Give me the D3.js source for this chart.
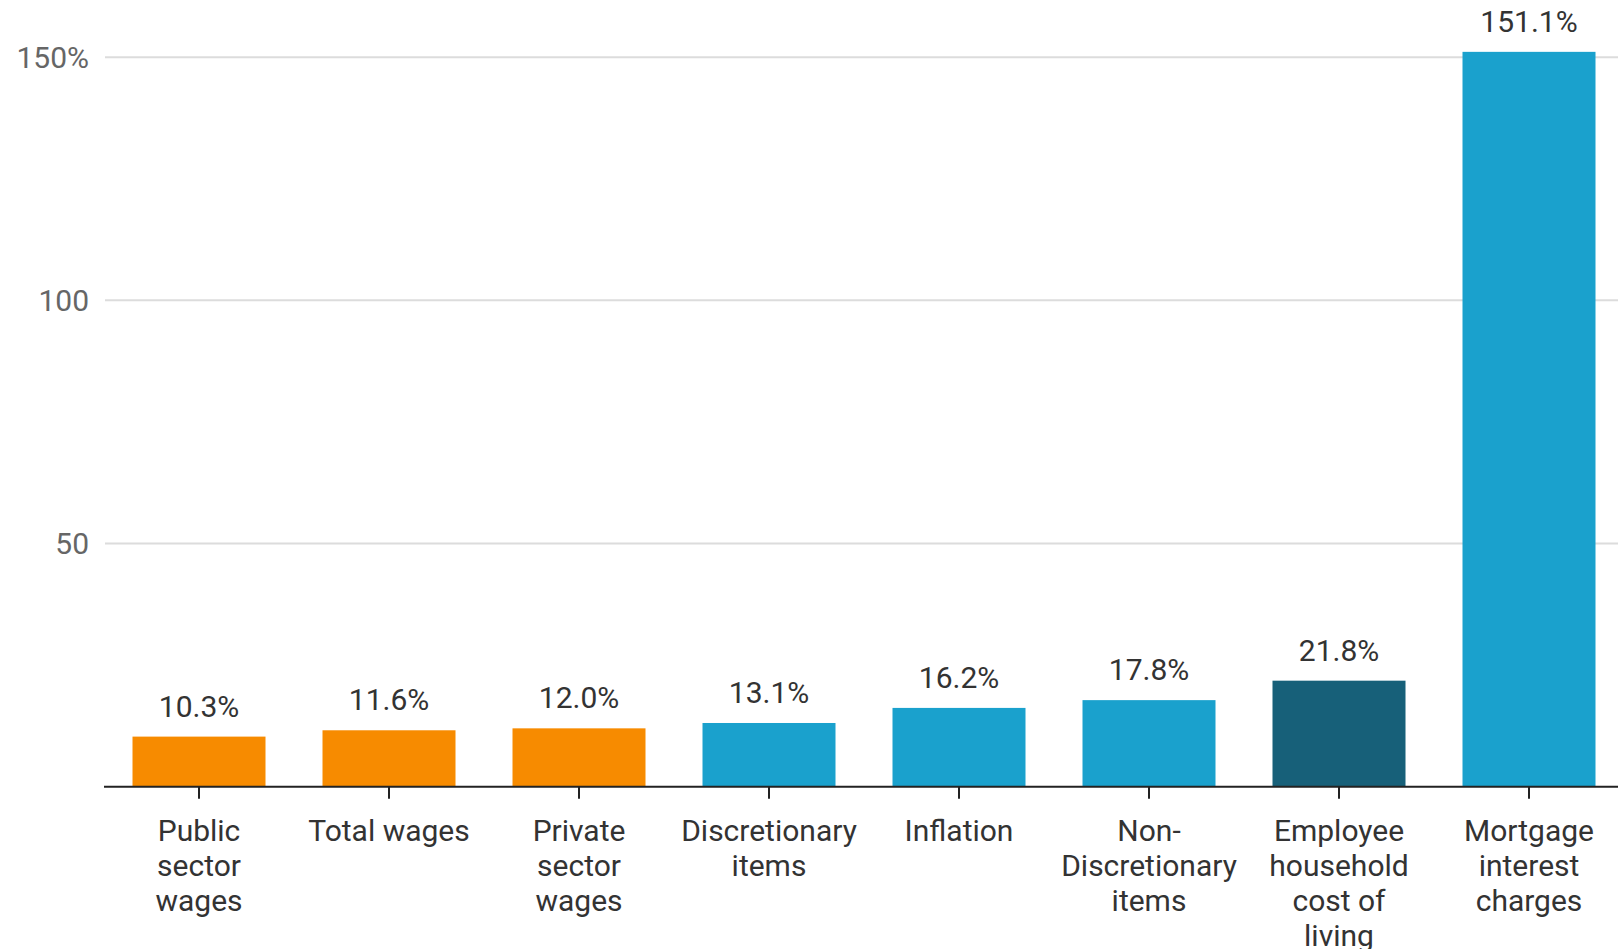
<!DOCTYPE html>
<html>
<head>
<meta charset="utf-8">
<script src="https://cdn.jsdelivr.net/npm/d3@7"></script>
<style>
  html, body { margin: 0; padding: 0; background: #fff; }
  svg { display: block; font-family: Roboto, "Noto Sans", sans-serif; }
</style>
</head>
<body>
<svg id="chart" width="1618" height="949"></svg>
<script>
// Growth by category (%)
const categories = [
  ["Public", "sector", "wages"],
  ["Total wages"],
  ["Private", "sector", "wages"],
  ["Discretionary", "items"],
  ["Inflation"],
  ["Non-", "Discretionary", "items"],
  ["Employee", "household", "cost of", "living"],
  ["Mortgage", "interest", "charges"]
];
const values = [10.3, 11.6, 12.0, 13.1, 16.2, 17.8, 21.8, 151.1];
const groups = ["wages", "wages", "wages", "prices", "prices", "prices", "household", "prices"];
const yTickValues = [50, 100, 150];
const yTickLabels = ["50", "100", "150%"];

const colors = { wages: "#f78b00", prices: "#1aa1cd", household: "#176079" };

const W = 1618, H = 949;
const left = 104, baseY = 786.7, topY = 57.2;
const fontSize = 30;

const svg = d3.select("#chart");

const x = d3.scaleBand()
  .domain(d3.range(values.length))
  .range([left, 1624])
  .paddingInner(0.3)
  .paddingOuter(0.15);

const y = d3.scaleLinear().domain([0, 150]).range([baseY, topY]);

// gridlines + y labels
const grid = svg.append("g");
grid.selectAll("line")
  .data(yTickValues)
  .join("line")
  .attr("x1", left + 1).attr("x2", W)
  .attr("y1", d => y(d)).attr("y2", d => y(d))
  .attr("stroke", "#dcdcdc").attr("stroke-width", 2);
grid.selectAll("text")
  .data(yTickValues)
  .join("text")
  .attr("x", 89)
  .attr("y", d => y(d))
  .attr("dy", "0.36em")
  .attr("text-anchor", "end")
  .attr("fill", "#666")
  .attr("font-size", fontSize)
  .text((d, i) => yTickLabels[i]);

// bars
svg.append("g").selectAll("rect")
  .data(values)
  .join("rect")
  .attr("x", (d, i) => x(i))
  .attr("width", x.bandwidth())
  .attr("y", d => y(d))
  .attr("height", d => baseY - y(d))
  .attr("fill", (d, i) => colors[groups[i]]);

// value labels
svg.append("g").selectAll("text")
  .data(values)
  .join("text")
  .attr("x", (d, i) => x(i) + x.bandwidth() / 2)
  .attr("y", d => y(d) - 20)
  .attr("text-anchor", "middle")
  .attr("fill", "#333")
  .attr("font-size", fontSize)
  .text(d => d.toFixed(1) + "%");

// x axis baseline and ticks
svg.append("line")
  .attr("x1", left).attr("x2", W)
  .attr("y1", baseY).attr("y2", baseY)
  .attr("stroke", "#222").attr("stroke-width", 2);

const xt = svg.append("g").selectAll("g")
  .data(categories)
  .join("g")
  .attr("transform", (d, i) => `translate(${x(i) + x.bandwidth() / 2},${baseY})`);
xt.append("line")
  .attr("y1", 0).attr("y2", 12)
  .attr("stroke", "#222").attr("stroke-width", 2);
xt.append("text")
  .attr("text-anchor", "middle")
  .attr("fill", "#333")
  .attr("font-size", fontSize)
  .selectAll("tspan")
  .data(d => d)
  .join("tspan")
  .attr("x", 0)
  .attr("y", (d, j) => 54 + j * 35.2)
  .text(d => d);
</script>
</body>
</html>
